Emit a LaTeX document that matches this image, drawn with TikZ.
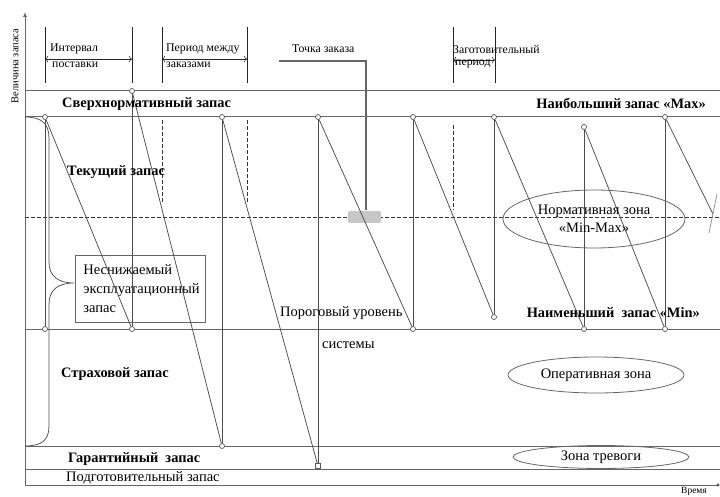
\documentclass[tikz,border=0pt]{standalone}
\usepackage{fontspec}
\setmainfont{Liberation Serif}
\usetikzlibrary{arrows.meta,shapes.geometric}
\begin{document}
\begin{tikzpicture}[x=1pt,y=-1pt,
 ln/.style={draw=black!70, line width=0.75pt},
 hl/.style={draw=black!60, line width=1pt},
 dot/.style={circle, draw=black!65, fill=white, inner sep=0pt, minimum size=5pt, line width=0.7pt},
 sq/.style={rectangle, draw=black!65, fill=white, inner sep=0pt, minimum size=4.5pt, line width=0.7pt},
 bl/.style={font=\bfseries\fontsize{14.4}{16}\selectfont, inner sep=0pt},
 rg/.style={font=\fontsize{14.5}{16}\selectfont, inner sep=0pt},
 sm/.style={font=\fontsize{11.8}{13}\selectfont, inner sep=0pt},
 zone/.style={ellipse, draw=black!60, line width=0.8pt, inner sep=0pt, align=center, font=\fontsize{14.5}{18}\selectfont},
 dim/.style={draw=black!85, line width=0.65pt},
 dsh/.style={draw=black!80, line width=0.75pt, dash pattern=on 4pt off 2pt},
]
\useasboundingbox (0,0) rectangle (720,497);
% axes
\coordinate (yb) at (25,485); \coordinate (yt) at (25,12); \coordinate (xe) at (718,485);
\draw[hl,-{Latex[length=5pt,width=4pt]}] (yb) -- (yt);
\draw[hl] (yb) -- (xe);
\fill[black!70] (xe) circle (1.6);
\node[font=\fontsize{10.5}{11}\selectfont, rotate=90, inner sep=0pt] (ylab) at (15,66) {Величина запаса};
\node[font=\fontsize{9.5}{10}\selectfont, inner sep=0pt] (xlab) at (694,491.5) {Время};
% horizontal levels
\foreach \y/\n in {91/top,117/max,329/min,446/gar,469/prep}{
  \coordinate (\n a) at (25,\y); \coordinate (\n b) at (720,\y);
  \draw[hl] (\n a) -- (\n b);
}
\coordinate (mida) at (25,217); \coordinate (midb) at (720,217);
\draw[dsh] (mida) -- (midb);
% order point marker
\fill[black!22, rounded corners=2pt] (348,211) rectangle (381,223);
% brace
\coordinate (br1) at (25,117); \coordinate (brt) at (74,283); \coordinate (br2) at (25,446);
\draw[ln] (br1) .. controls (42,117) and (49,124) .. (49,138) -- (49,262)
  .. controls (49,276) and (58,283) .. (brt)
  .. controls (58,283) and (49,290) .. (49,304) -- (49,426)
  .. controls (49,440) and (42,446) .. (br2);
% box
\node[draw=black!60, line width=0.8pt, anchor=north west, minimum width=130pt, minimum height=67pt,
  text width=126pt, align=left, inner sep=0pt, font=\fontsize{14.5}{19}\selectfont] (box) at (75,255)
  {\hspace*{6pt}Неснижаемый\\\hspace*{6pt}эксплуатационный\\\hspace*{6pt}запас};
% sawtooth points
\node[dot] (a1) at (45,117) {}; \node[dot] (a2) at (45,329) {};
\node[dot] (b1) at (132,91) {};  \node[dot] (b2) at (132,329) {};
\node[dot] (c1) at (222,117) {}; \node[dot] (c2) at (222,446) {};
\node[dot] (d1) at (318,117) {}; \node[sq] (d2) at (318,466) {};
\node[dot] (e1) at (413,117) {}; \node[dot] (e2) at (413,329) {};
\node[dot] (f1) at (494,117) {}; \node[dot] (f2) at (494,317) {};
\node[dot] (g1) at (584,127) {}; \node[dot] (g2) at (584,329) {};
\node[dot] (h1) at (665,117) {}; \node[dot] (h2) at (665,329) {};
\coordinate (hend) at (713,214);
\draw[ln] (a1) -- (a2); \draw[ln] (a1) -- (b2);
\draw[ln] (b2) -- (b1); \draw[ln] (b1) -- (c2);
\draw[ln] (c2) -- (c1); \draw[ln] (c1) -- (d2);
\draw[ln] (d2) -- (d1); \draw[ln] (d1) -- (e2);
\draw[ln] (e2) -- (e1); \draw[ln] (e1) -- (f2);
\draw[ln] (f2) -- (f1); \draw[ln] (f1) -- (g2);
\draw[ln] (g2) -- (g1); \draw[ln] (g1) -- (h2);
\draw[ln] (h2) -- (h1); \draw[ln] (h1) -- (hend);
\coordinate (tk1) at (717,194); \coordinate (tk2) at (709,233);
\draw[draw=black!45, line width=0.7pt] (tk1) -- (tk2);
% dimension lines
\foreach \x/\n in {45/v1,132/v2,162/v3,247/v4,453/v5,495/v6}{
  \coordinate (\n t) at (\x,27); \coordinate (\n b) at (\x,83);
  \draw[dim] (\n t) -- (\n b);
}
\coordinate (i1) at (45,59); \coordinate (i2) at (132,59);
\coordinate (j1) at (162,59); \coordinate (j2) at (247,59);
\coordinate (k1) at (453,60); \coordinate (k2) at (495,60);
\draw[dim,{To[length=3pt]}-{To[length=3pt]}] (i1) -- (i2);
\draw[dim,{To[length=3pt]}-{To[length=3pt]}] (j1) -- (j2);
\draw[dim,{To[length=3pt]}-{To[length=3pt]}] (k1) -- (k2);
\node[sm, anchor=west] (t1) at (50,49) {Интервал};
\node[sm, anchor=west] (t2) at (52,65) {поставки};
\node[sm, anchor=west] (t3) at (166,49) {Период между};
\node[sm, anchor=west] (t4) at (166,65) {заказами};
\node[sm, anchor=west] (t5) at (292,49) {Точка заказа};
\node[sm, anchor=west] (t6) at (453,50) {Заготовительный};
\node[sm, anchor=west] (t7) at (455,64) {период};
% order point line
\coordinate (op1) at (279,61); \coordinate (op2) at (366,61); \coordinate (op3) at (366,210);
\draw[draw=black!60, line width=1.2pt] (op1) -- (op2) -- (op3);
% dashed verticals
\foreach \x/\t/\b/\n in {162/120/203/dv1,247/120/203/dv2,453/125/210/dv3}{
  \coordinate (\n t) at (\x,\t); \coordinate (\n b) at (\x,\b);
  \draw[dsh] (\n t) -- (\n b);
}
% labels
\node[bl, anchor=west] (l1) at (62,104) {Сверхнормативный запас};
\node[bl, anchor=east] (l2) at (706,103) {Наибольший запас «Max»};
\node[bl, anchor=west] (l3) at (67,172) {Текущий запас};
\node[bl, anchor=east] (l4) at (700,313) {Наименьший\ \ запас «Min»};
\node[rg, anchor=west] (l5) at (280,313) {Пороговый уровень};
\node[rg, anchor=west] (l6) at (322,345) {системы};
\node[bl, anchor=west] (l7) at (61,374) {Страховой запас};
\node[bl, anchor=west] (l8) at (68,459) {Гарантийный\ \ запас};
\node[rg, anchor=west] (l9) at (66,478) {Подготовительный запас};
% zones
\node[zone, minimum width=182pt, minimum height=58pt] (z1) at (594,219) {Нормативная зона\\«Min-Max»};
\node[zone, minimum width=176pt, minimum height=36pt] (z2) at (596,375) {Оперативная зона};
\node[zone, minimum width=176pt, minimum height=23pt] (z3) at (601,457) {Зона тревоги};
\end{tikzpicture}
\end{document}
